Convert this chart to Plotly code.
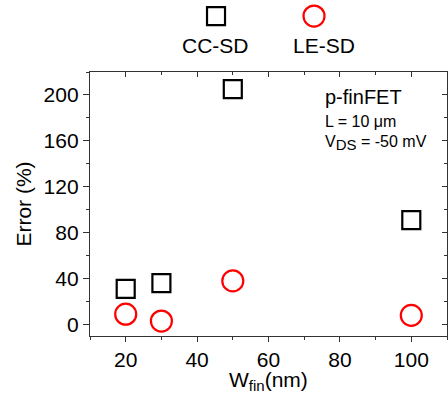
import plotly.graph_objects as go

# Data
w_fin = [20, 30, 50, 100]
cc_sd = [31, 36, 205, 91]
le_sd = [9, 3, 38, 8]
series_names = ["CC-SD", "LE-SD"]
x_ticks = [20, 40, 60, 80, 100]
y_ticks = [0, 40, 80, 120, 160, 200]

FONT = "Liberation Sans, Arial, sans-serif"
fig = go.Figure()

fig.add_trace(go.Scatter(x=w_fin, y=cc_sd, mode="markers", name=series_names[0],
                         marker=dict(symbol="square-open", size=18, color="black",
                                     line=dict(width=2.2, color="black")),
                         showlegend=False))
fig.add_trace(go.Scatter(x=w_fin, y=le_sd, mode="markers", name=series_names[1],
                         marker=dict(symbol="circle-open", size=21, color="red",
                                     line=dict(width=2.2, color="red")),
                         showlegend=False))

# custom legend (marker above text) on its own axes
fig.add_trace(go.Scatter(x=[0], y=[1], xaxis="x3", yaxis="y3", mode="markers",
                         marker=dict(symbol="square-open", size=18, color="black",
                                     line=dict(width=2.2, color="black")),
                         showlegend=False, hoverinfo="skip"))
fig.add_trace(go.Scatter(x=[1], y=[1], xaxis="x3", yaxis="y3", mode="markers",
                         marker=dict(symbol="circle-open", size=21, color="red",
                                     line=dict(width=2.2, color="red")),
                         showlegend=False, hoverinfo="skip"))

annotations = []
for i, (nm, xs) in enumerate(zip(series_names, [-1, 10])):
    annotations.append(dict(x=i, y=0, xref="x3", yref="y3", text=nm, showarrow=False,
                            xshift=xs, font=dict(size=21, color="black", family=FONT)))

annotations += [
    dict(x=0.653, y=0.711, xref="paper", yref="paper", xanchor="left", yanchor="middle",
         text="p-finFET", showarrow=False, font=dict(size=20, color="black", family=FONT)),
    dict(x=0.653, y=0.637, xref="paper", yref="paper", xanchor="left", yanchor="middle",
         text="L = 10 μm", showarrow=False, font=dict(size=16, color="black", family=FONT)),
    dict(x=0.653, y=0.574, xref="paper", yref="paper", xanchor="left", yanchor="middle",
         text="V<sub><span style='font-size:15px'>DS</span></sub> = -50 mV", showarrow=False,
         font=dict(size=16, color="black", family=FONT)),
    dict(x=0.5, y=-0.135, xref="paper", yref="paper", xanchor="center", yanchor="middle",
         text="W<sub><span style='font-size:15px'>fin</span></sub>(nm)", showarrow=False,
         font=dict(size=21, color="black", family=FONT)),
]

ax_common = dict(showline=True, linecolor="#333", linewidth=1.3, showgrid=False, zeroline=False,
                 tickcolor="#333", tickwidth=1.2, automargin=False)

fig.update_layout(
    width=448, height=398,
    margin=dict(l=90, r=1, t=0, b=62),
    paper_bgcolor="white", plot_bgcolor="white",
    font=dict(family=FONT, size=21, color="black"),
    xaxis=dict(range=[10, 110], domain=[0, 1], tickvals=x_ticks, ticks="outside", ticklen=5,
               minor=dict(ticks="outside", ticklen=3, dtick=10, tick0=0, tickcolor="#333"),
               tickfont=dict(size=21), **ax_common),
    yaxis=dict(range=[-10, 220], domain=[0, 0.7857], tickvals=y_ticks, ticks="outside", ticklen=6,
               minor=dict(ticks="outside", ticklen=3, dtick=20, tick0=0, tickcolor="#333"),
               title=dict(text="Error (%)", standoff=6, font=dict(size=21)),
               tickfont=dict(size=21), **ax_common),
    xaxis2=dict(range=[10, 110], overlaying="x", side="top", anchor="y", tickvals=x_ticks,
                ticks="inside", ticklen=5, showticklabels=False,
                minor=dict(ticks="inside", ticklen=3, dtick=10, tick0=0, tickcolor="#333"),
                **ax_common),
    yaxis2=dict(range=[-10, 220], overlaying="y", side="right", anchor="x", tickvals=y_ticks,
                ticks="inside", ticklen=5, showticklabels=False,
                minor=dict(ticks="inside", ticklen=3, dtick=20, tick0=0, tickcolor="#333"),
                **ax_common),
    xaxis3=dict(domain=[0, 1], range=[-1.286, 2.357], anchor="y3", visible=False),
    yaxis3=dict(domain=[0.821, 1], range=[-0.517, 1.552], anchor="x3", visible=False),
    annotations=annotations,
)

# dummy traces to activate mirrored axes
fig.add_trace(go.Scatter(x=[None], y=[None], xaxis="x2", yaxis="y2", showlegend=False))

fig.write_html("out.html", config={"displayModeBar": False},
               post_script="document.body.style.margin='0';document.body.style.overflow='hidden';")
